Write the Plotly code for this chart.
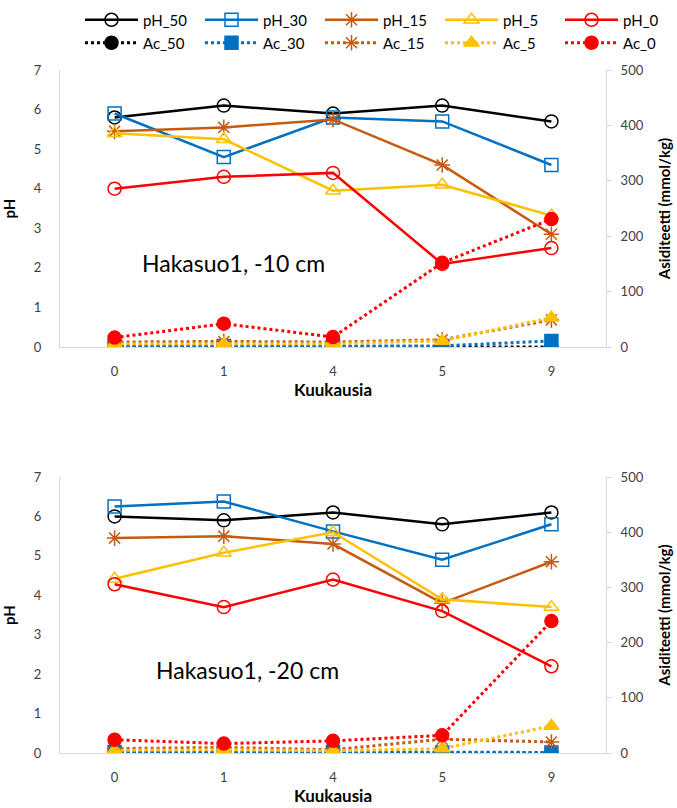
import plotly.graph_objects as go

# Sampling times (months)
months = ["0", "1", "4", "5", "9"]
series_names = ["50", "30", "15", "5", "0"]

# Hakasuo1, -10 cm : pH and acidity (mmol/kg)
ph_10 = {
    "50": [5.8, 6.1, 5.9, 6.1, 5.7],
    "30": [5.9, 4.8, 5.8, 5.7, 4.6],
    "15": [5.45, 5.55, 5.75, 4.6, 2.85],
    "5": [5.4, 5.25, 3.95, 4.1, 3.32],
    "0": [4.0, 4.3, 4.4, 2.1, 2.5],
}
ac_10 = {
    "50": [0, 0, 0, 0, 0],
    "30": [2, 2, 2, 2, 11],
    "15": [9, 10, 9, 13, 49],
    "5": [6, 6, 6, 11, 53],
    "0": [17, 42, 18, 152, 231],
}

# Hakasuo1, -20 cm : pH and acidity (mmol/kg)
ph_20 = {
    "50": [6.0, 5.9, 6.1, 5.8, 6.1],
    "30": [6.25, 6.38, 5.62, 4.9, 5.8],
    "15": [5.45, 5.5, 5.3, 3.8, 4.85],
    "5": [4.42, 5.08, 5.6, 3.9, 3.7],
    "0": [4.28, 3.7, 4.4, 3.6, 2.2],
}
ac_20 = {
    "50": [0, 0, 0, 0, 0],
    "30": [2, 1, 2, 1, 1],
    "15": [8, 10, 6, 25, 20],
    "5": [5, 6, 4, 8, 49],
    "0": [24, 17, 22, 32, 239],
}

colors = {"50": "#000000", "30": "#0070C0", "15": "#C55A11", "5": "#FFC000", "0": "#FF0000"}
open_symbols = {"50": "circle-open", "30": "square-open", "15": "asterisk-open",
                "5": "triangle-up-open", "0": "circle-open"}
filled_symbols = {"50": "circle", "30": "square", "15": "asterisk-open",
                  "5": "triangle-up", "0": "circle"}

FONT = "Lato"
TICK_COLOR = "#404040"
AXIS_LINE = "#D9D9D9"

fig = go.Figure()

panels = [
    (ph_10, ac_10, "x", "y", "y2", True),
    (ph_20, ac_20, "x2", "y3", "y4", False),
]

for ph, ac, xa, ya_left, ya_right, legend_on in panels:
    for s in series_names:
        fig.add_trace(go.Scatter(
            x=months, y=ph[s], name=f"pH_{s}", mode="lines+markers",
            xaxis=xa, yaxis=ya_left, legend="legend", showlegend=legend_on,
            line=dict(color=colors[s], width=2.5),
            marker=dict(symbol=open_symbols[s], size=13, color=colors[s],
                        line=dict(color=colors[s], width=1.5)),
        ))
    for s in series_names:
        fig.add_trace(go.Scatter(
            x=months, y=ac[s], name=f"Ac_{s}", mode="lines+markers",
            xaxis=xa, yaxis=ya_right, legend="legend2", showlegend=legend_on,
            line=dict(color=colors[s], width=3, dash="3px,3px"),
            marker=dict(symbol=filled_symbols[s], size=13, color=colors[s],
                        line=dict(color=colors[s], width=1.5)),
        ))

W, H = 677, 808


def py(px):
    """pixel row (from the top of the page) -> paper fraction"""
    return (H - px) / H


x_dom = [60 / W, 606 / W]
top_dom = [py(347), py(70)]
bot_dom = [py(753), py(477)]

tick_font = dict(family=FONT, size=13, color=TICK_COLOR)
title_font = dict(family=FONT, size=17, color="#000000", weight="bold")
side_title_font = dict(family=FONT, size=15, color="#000000", weight="bold")


def x_axis(anchor):
    return dict(
        domain=x_dom, anchor=anchor, type="category",
        categoryorder="array", categoryarray=months, range=[-0.5, 4.5],
        showline=True, linecolor=AXIS_LINE, linewidth=1, showgrid=False,
        zeroline=False, ticks="", tickfont=tick_font, ticklabelstandoff=12,
        title=dict(text="Kuukausia", font=title_font, standoff=4),
        fixedrange=True,
    )


def left_axis(dom, anchor):
    return dict(
        domain=dom, anchor=anchor, range=[0, 7], dtick=1, tick0=0,
        showline=True, linecolor=AXIS_LINE, linewidth=1, showgrid=False,
        zeroline=False, ticks="", tickfont=tick_font, ticklabelstandoff=15,
        title=dict(text="pH", font=side_title_font, standoff=14),
    )


def right_axis(overlay, anchor):
    return dict(
        overlaying=overlay, anchor=anchor, side="right", range=[0, 500],
        dtick=100, tick0=0, showline=True, linecolor=AXIS_LINE, linewidth=1,
        showgrid=False, zeroline=False, ticks="outside", ticklen=5,
        tickcolor=AXIS_LINE, tickfont=tick_font, ticklabelstandoff=6,
        title=dict(text="Asiditeetti (mmol/kg)", font=side_title_font, standoff=16),
    )


legend_common = dict(
    orientation="h", xanchor="left", yanchor="middle", x=80 / W,
    font=dict(family=FONT, size=15, color="#000000"),
    itemwidth=53, entrywidth=52, entrywidthmode="pixels",
    bgcolor="rgba(0,0,0,0)", itemclick=False, itemdoubleclick=False,
    tracegroupgap=0,
)

fig.update_layout(
    width=W, height=H,
    margin=dict(l=0, r=0, t=0, b=0, autoexpand=False),
    paper_bgcolor="white", plot_bgcolor="white",
    font=dict(family=FONT, color="#000000"),
    xaxis=x_axis("y"),
    yaxis=left_axis(top_dom, "x"),
    yaxis2=right_axis("y", "x"),
    xaxis2=x_axis("y3"),
    yaxis3=left_axis(bot_dom, "x2"),
    yaxis4=right_axis("y3", "x2"),
    legend=dict(legend_common, y=py(20)),
    legend2=dict(legend_common, y=py(43)),
    annotations=[
        dict(text="Hakasuo1, -10 cm", xref="paper", yref="paper",
             x=234 / W, y=py(263), xanchor="center", yanchor="middle",
             showarrow=False, font=dict(family=FONT, size=23, color="#000000")),
        dict(text="Hakasuo1, -20 cm", xref="paper", yref="paper",
             x=247 / W, y=py(670), xanchor="center", yanchor="middle",
             showarrow=False, font=dict(family=FONT, size=23, color="#000000")),
    ],
    showlegend=True,
)

fig.write_html("out.html")
